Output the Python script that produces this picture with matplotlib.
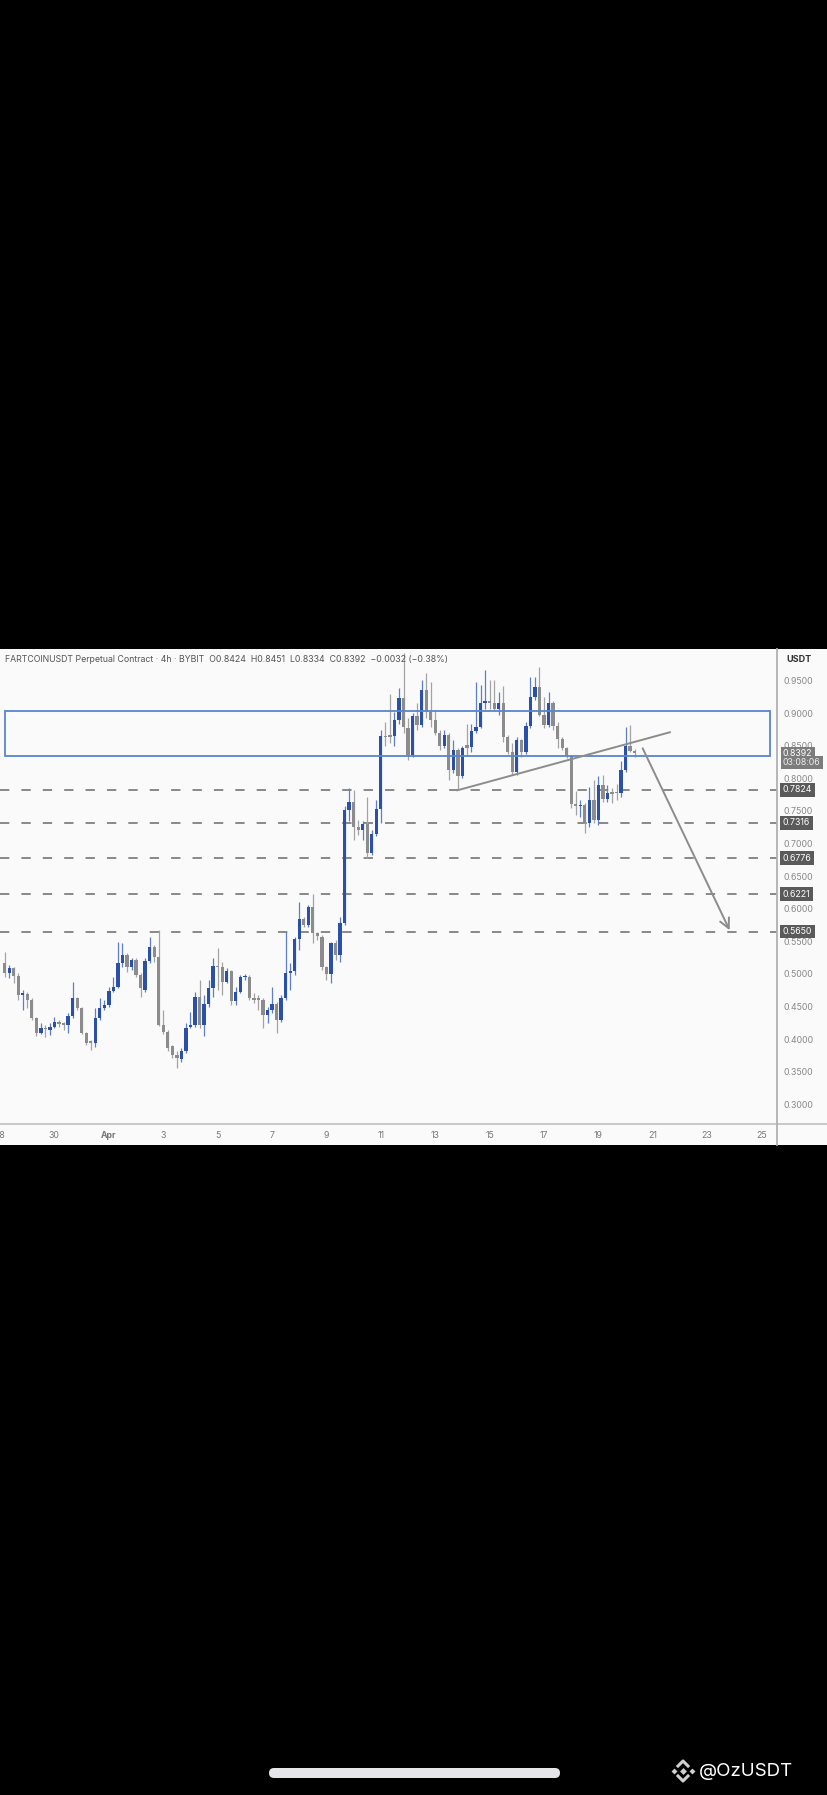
import numpy as np
import matplotlib
matplotlib.use('Agg')
import matplotlib.pyplot as plt
from matplotlib.patches import Rectangle, FancyBboxPatch
from matplotlib.transforms import blended_transform_factory

plt.rcParams['font.family'] = ['Inter', 'DejaVu Sans']

# 4h candles, oldest first (FARTCOINUSDT, Bybit)
opens = [.516, .502, .509, .497, .468, .469, .460, .432, .410, .417, .414, .419, .425, .424, .422,
         .435, .463, .447, .410, .396, .394, .433, .447, .452, .474, .480, .516, .529, .511, .521,
         .498, .476, .520, .542, .526, .422, .411, .389, .376, .369, .381, .418, .422, .465, .422,
         .454, .478, .512, .510, .488, .504, .458, .472, .495, .496, .463, .462, .460, .437, .444,
         .454, .429, .463, .502, .505, .553, .584, .575, .602, .562, .557, .510, .500, .547, .529,
         .578, .752, .763, .726, .721, .730, .685, .715, .753, .865, .865, .865, .890, .923, .877,
         .836, .895, .882, .935, .902, .889, .870, .850, .867, .813, .844, .803, .851, .848, .872,
         .879, .915, .918, .916, .907, .915, .863, .841, .810, .859, .841, .880, .924, .940, .897,
         .882, .915, .880, .860, .846, .834, .761, .757, .759, .731, .767, .736, .790, .768, .778,
         .778, .777, .813, .849, .8424]
highs = [.533, .514, .511, .501, .475, .473, .463, .434, .424, .422, .424, .434, .429, .427, .440,
         .488, .465, .450, .411, .399, .447, .463, .460, .480, .496, .549, .547, .532, .524, .524,
         .501, .524, .557, .544, .567, .445, .414, .391, .381, .386, .424, .442, .473, .491, .468,
         .491, .524, .539, .519, .509, .506, .480, .498, .500, .498, .470, .467, .463, .450, .480,
         .457, .468, .565, .516, .557, .611, .588, .606, .622, .565, .560, .512, .549, .552, .588,
         .757, .785, .782, .736, .734, .772, .721, .767, .874, .887, .930, .902, .938, .992, .892,
         .900, .915, .951, .961, .948, .905, .874, .874, .869, .859, .846, .849, .884, .884, .948,
         .943, .966, .951, .951, .933, .941, .867, .854, .864, .861, .887, .956, .956, .971, .925,
         .933, .918, .887, .864, .848, .836, .780, .767, .762, .787, .798, .803, .805, .790, .785,
         .792, .826, .879, .882, .8451]
lows = [.496, .493, .486, .460, .445, .447, .429, .405, .408, .403, .406, .417, .419, .414, .409,
        .432, .445, .408, .391, .383, .388, .429, .445, .450, .473, .478, .511, .503, .506, .496,
        .465, .473, .516, .519, .420, .408, .381, .371, .355, .365, .378, .417, .419, .417, .404,
        .450, .465, .475, .468, .486, .452, .452, .470, .491, .460, .455, .445, .417, .424, .440,
        .409, .427, .460, .475, .498, .537, .572, .572, .547, .552, .506, .491, .486, .521, .519,
        .575, .734, .706, .713, .706, .677, .683, .711, .731, .849, .854, .849, .884, .869, .828,
        .833, .874, .879, .892, .879, .867, .844, .846, .798, .808, .782, .800, .834, .841, .869,
        .877, .907, .907, .905, .897, .856, .838, .805, .805, .833, .838, .877, .920, .895, .877,
        .879, .874, .846, .844, .831, .754, .744, .741, .716, .726, .731, .729, .764, .764, .762,
        .767, .772, .810, .841, .8334]
closes = [.502, .509, .497, .468, .470, .460, .432, .410, .417, .415, .419, .426, .423, .422, .435,
          .463, .447, .410, .394, .394, .433, .447, .452, .474, .480, .516, .529, .511, .521, .498,
          .478, .520, .542, .526, .422, .411, .386, .376, .371, .381, .417, .422, .465, .422, .454,
          .478, .512, .510, .488, .504, .458, .472, .496, .497, .463, .460, .460, .437, .444, .454,
          .429, .463, .501, .505, .553, .584, .575, .602, .562, .558, .510, .500, .547, .529, .578,
          .752, .763, .726, .721, .730, .685, .715, .753, .865, .863, .864, .890, .923, .879, .836,
          .895, .882, .935, .902, .889, .870, .850, .867, .813, .844, .803, .846, .846, .872, .879,
          .915, .918, .916, .907, .915, .863, .841, .810, .859, .841, .880, .924, .940, .897, .882,
          .915, .880, .860, .846, .834, .761, .757, .759, .731, .767, .736, .790, .768, .778, .776,
          .777, .813, .849, .8424, .8392]

first_candle_day = -2.83          # day of first candle (Apr 1 = 1)
candle_step = 1 / 6               # 4h in days

# horizontal support levels
level_prices = [0.7824, 0.7316, 0.6776, 0.6221, 0.5650]
last_price = 0.8392
countdown = '03:08:06'

# resistance zone
zone_days = [-2.83, 25.30]
zone_prices = [0.8347, 0.9037]

# rising trendline and projected move
trend_days = [13.82, 21.63]
trend_prices = [0.7816, 0.8706]
arrow_days = [20.63, 23.83]
arrow_prices = [0.846, 0.567]

x_ticks = [-3, -1, 1, 3, 5, 7, 9, 11, 13, 15, 17, 19, 21, 23, 25]
x_labels = ['28', '30', 'Apr', '3', '5', '7', '9', '11', '13', '15', '17', '19', '21', '23', '25']
y_ticks = [0.30, 0.35, 0.40, 0.45, 0.50, 0.55, 0.60, 0.65, 0.70, 0.75, 0.80, 0.85, 0.90, 0.95]

header = ('FARTCOINUSDT Perpetual Contract · 4h · BYBIT  O0.8424  H0.8451  L0.8334  '
          'C0.8392  \u22120.0032 (\u22120.38%)')

BLUE = '#2b50a8'
BLUE_WICK = '#5d7fcb'
GRAY = '#8c8c8c'
GRAY_WICK = '#a3a3a3'
BG = '#fafafa'

W, H = 828, 1795
fig = plt.figure(figsize=(W / 100, H / 100), dpi=100, facecolor='black')

# background panel in pixel coords
bg = fig.add_axes([0, 0, 1, 1], zorder=-1)
bg.set_xlim(0, W)
bg.set_ylim(H, 0)
bg.axis('off')
bg.add_patch(Rectangle((0, 649), W, 496, fc=BG, ec='none'))

# main chart axes: x 0..777 px, y 649..1124 px
ax = fig.add_axes([0, (H - 1124) / H, 777 / W, (1124 - 649) / H])
ax.set_facecolor(BG)
ax.set_xlim(-2.88, 25.57)
ax.set_ylim(0.2698, 0.9983)

o = np.array(opens)
h = np.array(highs)
l = np.array(lows)
c = np.array(closes)
t = first_candle_day + np.arange(len(o)) * candle_step
up = c >= o
body_w = 0.121

ax.vlines(t[up], l[up], h[up], color=BLUE_WICK, lw=0.9, zorder=3)
ax.vlines(t[~up], l[~up], h[~up], color=GRAY_WICK, lw=0.9, zorder=3)
heights = np.maximum(np.abs(c - o), 0.0025)
bottoms = np.minimum(o, c)
ax.bar(t[up], heights[up], body_w, bottom=bottoms[up], color=BLUE, lw=0, zorder=4)
ax.bar(t[~up], heights[~up], body_w, bottom=bottoms[~up], color=GRAY, lw=0, zorder=4)

# zone
ax.add_patch(Rectangle((zone_days[0], zone_prices[0]), zone_days[1] - zone_days[0],
                       zone_prices[1] - zone_prices[0], fill=False, ec='#5a84cf', lw=1.3, zorder=5))

# levels
tr = blended_transform_factory(ax.transAxes, ax.transData)
for p in level_prices:
    ax.axhline(p, color='#888888', lw=1.4, ls=(0, (4.8, 6.2)), zorder=2)
    ax.text(1.0075, p, f'{p:.4f}', transform=tr, fontsize=6.3, color='white', va='center',
            ha='left', clip_on=False, zorder=10,
            bbox=dict(boxstyle='square,pad=0.28', fc='#5a5a5a', ec='none'))

# last price label + countdown
ax.text(1.0075, last_price - 0.0012, f'{last_price:.4f}', transform=tr, fontsize=6.3,
        color='white', va='center', ha='left', clip_on=False, zorder=11,
        bbox=dict(boxstyle='square,pad=0.25', fc='#7c7c7c', ec='none'))
ax.text(1.0075, last_price - 0.0152, countdown, transform=tr, fontsize=6.3, color='#ececec',
        va='center', ha='left', clip_on=False, zorder=11,
        bbox=dict(boxstyle='square,pad=0.25', fc='#7c7c7c', ec='none'))

# trendline and arrow
ax.plot(trend_days, trend_prices, color='#8c8c8c', lw=1.4, zorder=6)
ax.annotate('', xy=(arrow_days[1], arrow_prices[1]), xytext=(arrow_days[0], arrow_prices[0]),
            arrowprops=dict(arrowstyle='->,head_length=0.7,head_width=0.35', color='#8c8c8c',
                            lw=1.4, shrinkA=0, shrinkB=0), zorder=6)

# axes styling
ax.yaxis.tick_right()
ax.set_yticks(y_ticks)
ax.set_yticklabels([f'{v:.4f}' for v in y_ticks])
ax.set_xticks(x_ticks)
ax.set_xticklabels(x_labels)
ax.tick_params(axis='y', length=0, pad=4.5, labelsize=6.3, labelcolor='#888888')
ax.tick_params(axis='x', length=0, pad=5, labelsize=6.3, labelcolor='#777777')
for lab in ax.get_xticklabels():
    if lab.get_text() == 'Apr':
        lab.set_fontweight('bold')
for s in ['top', 'left']:
    ax.spines[s].set_visible(False)
ax.spines['bottom'].set_color('#c4c4c4')
ax.spines['bottom'].set_linewidth(1.3)
ax.spines['right'].set_color('#b0b0b0')
ax.spines['right'].set_linewidth(1.3)

# overlay in pixel coords
ov = fig.add_axes([0, 0, 1, 1], zorder=20)
ov.set_xlim(0, W)
ov.set_ylim(H, 0)
ov.axis('off')
ov.patch.set_alpha(0)
ov.plot([777, W], [1124, 1124], color='#c4c4c4', lw=1.3)
ov.plot([777, 777], [1124, 1145], color='#b0b0b0', lw=1.3)
ov.text(5, 660, header, fontsize=6.3, color='#555555', va='center', ha='left')
ov.text(786, 660, 'USDT', fontsize=6.5, color='#333333', va='center', ha='left', fontweight='bold')

# phone home bar
ov.add_patch(FancyBboxPatch((271, 1770), 287, 6, boxstyle='round,pad=2,rounding_size=5',
                            fc='#e6e6e8', ec='none'))

# watermark
lx, ly = 683, 1771
ov.plot([lx], [ly], marker='D', ms=3.5, color='#d0d0d0', mec='none')
ov.plot([lx - 9, lx + 9], [ly, ly], ls='none', marker='D', ms=3, color='#d0d0d0', mec='none')
ov.plot([lx - 5, lx, lx + 5], [ly - 5, ly - 10, ly - 5], color='#d0d0d0', lw=2.2)
ov.plot([lx - 5, lx, lx + 5], [ly + 5, ly + 10, ly + 5], color='#d0d0d0', lw=2.2)
ov.text(699, ly, '@OzUSDT', fontsize=13.5, color='white', va='center', ha='left')

fig.savefig('out.png', dpi=100, facecolor='black')
